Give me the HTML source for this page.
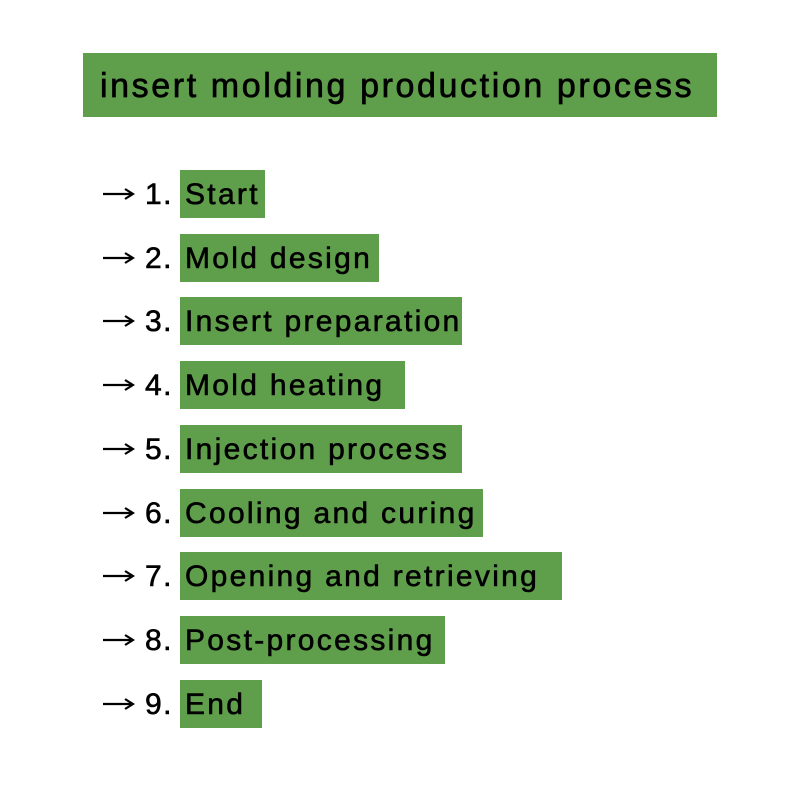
<!DOCTYPE html>
<html><head><style>
body{margin:0;width:800px;height:800px;background:#fff;position:relative;font-family:"Liberation Sans",sans-serif;color:#000;overflow:hidden}
.t{position:absolute;left:83px;top:53px;width:634px;height:64px;background:#5f9f4b;}
.t span{position:absolute;top:14px;font-size:34px;letter-spacing:2.6px;white-space:nowrap;-webkit-text-stroke:0.7px #000;left:17px}
.r{position:absolute;left:0;height:48px;width:800px}
.a{position:absolute;left:103px;top:16px}
.n{position:absolute;left:145px;top:8px;font-size:30px;letter-spacing:1.5px;-webkit-text-stroke:0.6px #000}
.b{position:absolute;left:180px;top:0;height:48px;background:#5f9f4b}
.b span{position:absolute;left:5px;top:8px;font-size:30px;letter-spacing:2.3px;white-space:nowrap;-webkit-text-stroke:0.6px #000}
</style></head><body>
<div class="t"><span>insert molding production process</span></div>
<svg width="0" height="0" style="position:absolute"><defs><g id="ar"><line x1="0" y1="8" x2="29" y2="8" stroke="#000" stroke-width="2.2"/><path d="M22 3 L30 8 L22 13" fill="none" stroke="#000" stroke-width="2.2"/></g></defs></svg>
<div class="r" style="top:170px"><svg class="a" width="32" height="16"><use href="#ar"/></svg><span class="n">1.</span><div class="b" style="width:85px"><span>Start</span></div></div>
<div class="r" style="top:234px"><svg class="a" width="32" height="16"><use href="#ar"/></svg><span class="n">2.</span><div class="b" style="width:199px"><span>Mold design</span></div></div>
<div class="r" style="top:297px"><svg class="a" width="32" height="16"><use href="#ar"/></svg><span class="n">3.</span><div class="b" style="width:282px"><span>Insert preparation</span></div></div>
<div class="r" style="top:361px"><svg class="a" width="32" height="16"><use href="#ar"/></svg><span class="n">4.</span><div class="b" style="width:225px"><span>Mold heating</span></div></div>
<div class="r" style="top:425px"><svg class="a" width="32" height="16"><use href="#ar"/></svg><span class="n">5.</span><div class="b" style="width:282px"><span>Injection process</span></div></div>
<div class="r" style="top:489px"><svg class="a" width="32" height="16"><use href="#ar"/></svg><span class="n">6.</span><div class="b" style="width:303px"><span>Cooling and curing</span></div></div>
<div class="r" style="top:552px"><svg class="a" width="32" height="16"><use href="#ar"/></svg><span class="n">7.</span><div class="b" style="width:382px"><span>Opening and retrieving</span></div></div>
<div class="r" style="top:616px"><svg class="a" width="32" height="16"><use href="#ar"/></svg><span class="n">8.</span><div class="b" style="width:265px"><span>Post-processing</span></div></div>
<div class="r" style="top:680px"><svg class="a" width="32" height="16"><use href="#ar"/></svg><span class="n">9.</span><div class="b" style="width:82px"><span>End</span></div></div>
</body></html>
